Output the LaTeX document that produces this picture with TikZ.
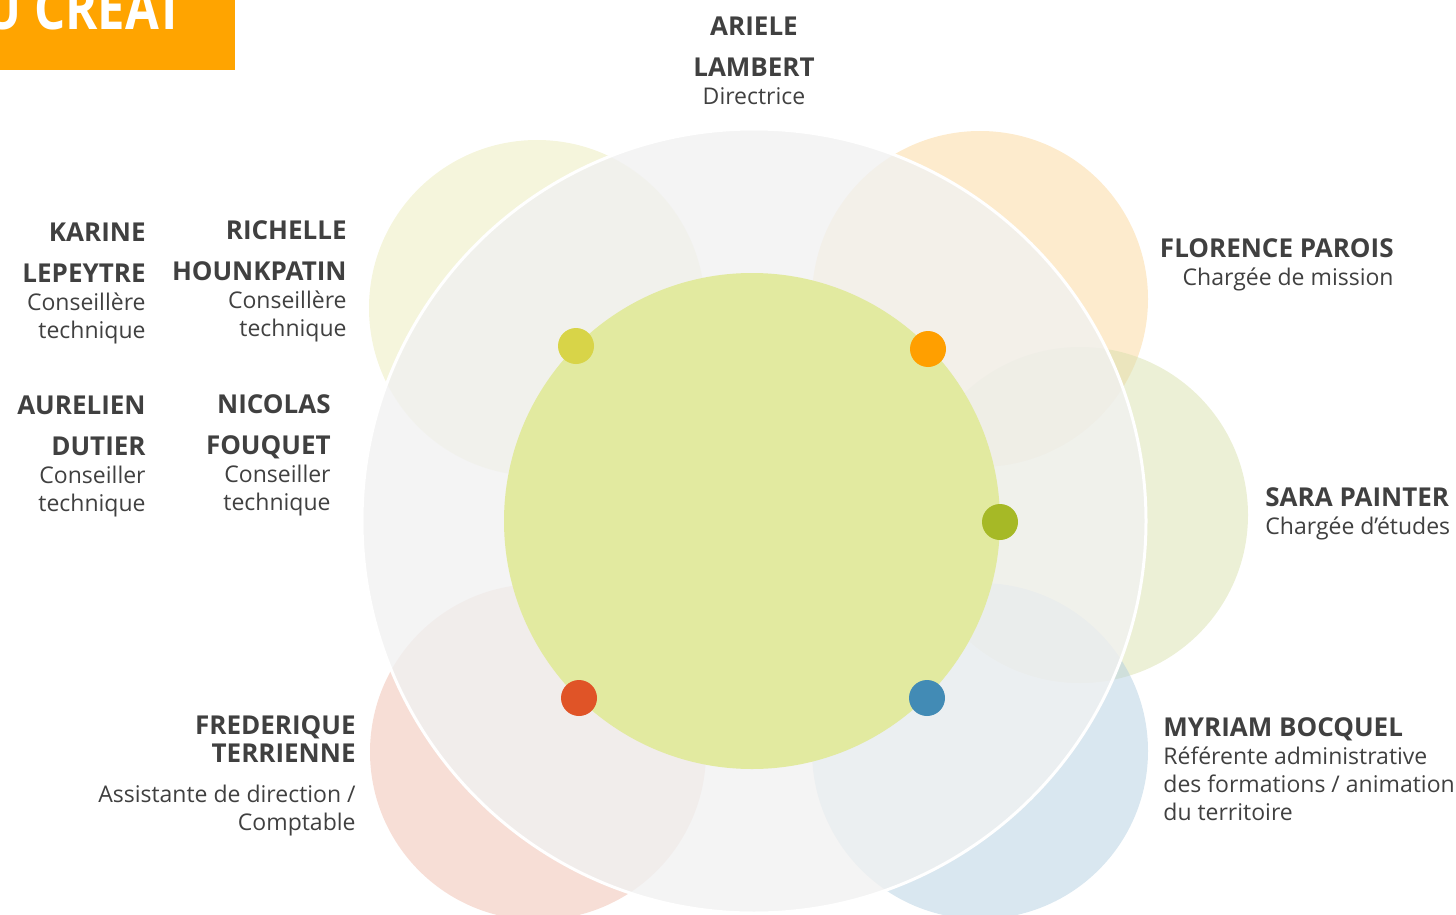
\documentclass[tikz,border=0pt]{standalone}
\usepackage{fontspec}
\setmainfont{Open Sans}
\usetikzlibrary{positioning}

\definecolor{bandeau}{HTML}{FFA400}
\definecolor{texte}{HTML}{404040}
\definecolor{fond}{HTML}{F1F1F1}
\definecolor{coeur}{HTML}{E2EAA0}
% petales (fill opacity 0.5)
\definecolor{jaune}{HTML}{EBEBB9}
\definecolor{orangep}{HTML}{FBD79B}
\definecolor{vert}{HTML}{D9E1AD}
\definecolor{rouge}{HTML}{EFBDAD}
\definecolor{bleu}{HTML}{B3CFE1}
% pastilles
\definecolor{djaune}{HTML}{D8D448}
\definecolor{dorange}{HTML}{FF9F00}
\definecolor{dvert}{HTML}{A6B926}
\definecolor{drouge}{HTML}{E05427}
\definecolor{dbleu}{HTML}{428BB5}

\newcommand{\nomgras}[1]{{\bfseries\fontsize{13}{14}\selectfont #1}}

\tikzset{
  petale/.style={circle, minimum size=168pt, inner sep=0pt, fill opacity=0.5},
  pastille/.style={circle, minimum size=18pt, inner sep=0pt},
  personne/.style={text=texte, inner sep=0pt, font=\fontsize{11.5}{14}\selectfont}
}

\begin{document}
\begin{tikzpicture}[x=0.5pt, y=-0.5pt]
\useasboundingbox (0,0) rectangle (1456,915);

% bandeau
\fill[bandeau] (0,0) rectangle (235,70);
\begin{scope}
  \clip (0,0) rectangle (235,70);
  \node[anchor=base west, inner sep=0pt, text=white, yscale=1.2,
    font=\bfseries\fontsize{24.5}{28}\selectfont] (titre) at (-16,30) {U CREAT};
\end{scope}

% petales
\node[petale, fill=jaune]   (p_jaune)  at (537,308) {};
\node[petale, fill=orangep] (p_orange) at (980,299) {};
\node[petale, fill=vert]    (p_vert)   at (1080,515) {};
\node[petale, fill=rouge]   (p_rouge)  at (538,752) {};
\node[petale, fill=bleu]    (p_bleu)   at (980,751) {};

% grand cercle et coeur
\node[circle, minimum size=392pt, inner sep=0pt, fill=fond, fill opacity=0.8,
  draw=white, line width=1.5pt] (equipe) at (754,521) {};
\node[circle, minimum size=248pt, inner sep=0pt, fill=coeur] (coeur) at (752,521) {};

% pastilles
\node[pastille, fill=djaune]  (d_jaune)  at (576,346) {};
\node[pastille, fill=dorange] (d_orange) at (928,349) {};
\node[pastille, fill=dvert]   (d_vert)   at (1000,522) {};
\node[pastille, fill=drouge]  (d_rouge)  at (579,698) {};
\node[pastille, fill=dbleu]   (d_bleu)   at (927,698) {};

% personnes
\node[personne, align=center, anchor=north] (ariele) at (754,16)
  {\nomgras{ARIELE}\\[6.5pt] \nomgras{LAMBERT}\\ Directrice};
\node[personne, align=right, anchor=north east] (karine) at (146,222)
  {\nomgras{KARINE}\\[6.5pt] \nomgras{LEPEYTRE}\\ Conseillère\\ technique};
\node[personne, align=right, anchor=north east] (richelle) at (347,220)
  {\nomgras{RICHELLE}\\[6.5pt] \nomgras{HOUNKPATIN}\\ Conseillère\\ technique};
\node[personne, align=right, anchor=north east] (aurelien) at (146,395)
  {\nomgras{AURELIEN}\\[6.5pt] \nomgras{DUTIER}\\ Conseiller\\ technique};
\node[personne, align=right, anchor=north east] (nicolas) at (331,394)
  {\nomgras{NICOLAS}\\[6.5pt] \nomgras{FOUQUET}\\ Conseiller\\ technique};
\node[personne, align=right, anchor=north east] (florence) at (1394,238)
  {\nomgras{FLORENCE PAROIS}\\ Chargée de mission};
\node[personne, align=left, anchor=north west] (sara) at (1265,487)
  {\nomgras{SARA PAINTER}\\ Chargée d’études};
\node[personne, align=left, anchor=north west] (myriam) at (1163,717)
  {\nomgras{MYRIAM BOCQUEL}\\ Référente administrative\\ des formations / animation\\ du territoire};
\node[personne, align=right, anchor=north east] (frederique) at (356,715)
  {\nomgras{FREDERIQUE}\\ \nomgras{TERRIENNE}\\[6pt] Assistante de direction /\\ Comptable};

\end{tikzpicture}
\end{document}
